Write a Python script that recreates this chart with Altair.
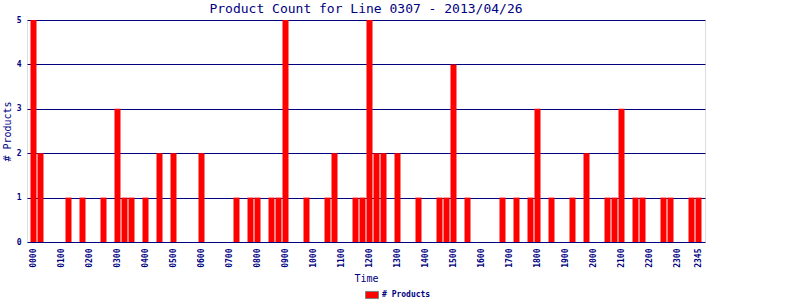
import altair as alt
import pandas as pd

# 15-minute slots 0000..2345
slots = [f"{h:02d}{m:02d}" for h in range(24) for m in (0, 15, 30, 45)]

# non-zero counts (slot label -> count)
nonzero_slots = ["0000", "0015", "0115", "0145", "0230", "0300", "0315", "0330",
                 "0400", "0430", "0500", "0600", "0715", "0745", "0800", "0830",
                 "0845", "0900", "0945", "1030", "1045", "1130", "1145", "1200",
                 "1215", "1230", "1300", "1345", "1430", "1445", "1500", "1530",
                 "1645", "1715", "1745", "1800", "1830", "1915", "1945", "2030",
                 "2045", "2100", "2130", "2145", "2230", "2245", "2330", "2345"]
nonzero_counts = [5, 2, 1, 1, 1, 3, 1, 1,
                  1, 2, 2, 2, 1, 1, 1, 1,
                  1, 5, 1, 1, 2, 1, 1, 5,
                  2, 2, 2, 1, 1, 1, 4, 1,
                  1, 1, 1, 3, 1, 1, 2, 1,
                  1, 3, 1, 1, 1, 1, 1, 1]

lookup = dict(zip(nonzero_slots, nonzero_counts))
counts = [lookup.get(s, 0) for s in slots]

df = pd.DataFrame({"Time": slots, "count": counts, "series": "# Products"})

NAVY = "#000080"
MONO = "DejaVu Sans Mono"

chart = alt.Chart(df).mark_bar(color="#ff0000").encode(
    x=alt.X("Time:O", sort=slots,
            scale=alt.Scale(domain=slots, paddingInner=1/7, paddingOuter=0.5),
            axis=alt.Axis(title="Time", labelAngle=-90, ticks=False, domain=False,
                          labelPadding=6, labelFont=MONO, labelFontSize=8,
                          labelFontWeight="bold", labelColor=NAVY,
                          labelExpr="(substring(datum.value, 2, 4) == '00' || datum.value == '2345') ? datum.value : ''",
                          labelOverlap=False,
                          titleFont=MONO, titleFontSize=10, titleFontWeight="normal",
                          titleColor=NAVY, titlePadding=6)),
    y=alt.Y("count:Q", scale=alt.Scale(domain=[0, 5], nice=False),
            axis=alt.Axis(title="# Products", values=[0, 1, 2, 3, 4, 5],
                          ticks=False, domain=False, grid=True, gridColor=NAVY,
                          gridOpacity=1, gridWidth=1,
                          labelPadding=6, labelFont=MONO, labelFontSize=8,
                          labelFontWeight="bold", labelColor=NAVY,
                          titleFont=MONO, titleFontSize=10, titleFontWeight="normal",
                          titleColor=NAVY, titlePadding=4)),
    fill=alt.Fill("series:N", scale=alt.Scale(range=["#ff0000"]),
                  legend=alt.Legend(title=None, orient="none", legendX=338, legendY=268,
                                    symbolType="M-1,-0.55H1V0.55H-1Z", symbolSize=169,
                                    symbolStrokeColor="#808080", symbolStrokeWidth=1,
                                    symbolFillColor="#ff0000",
                                    labelFont=MONO, labelFontSize=8, labelFontWeight="bold",
                                    labelColor=NAVY, labelOffset=3)),
).properties(
    width=678, height=222,
    title=alt.Title("Product Count for Line 0307 - 2013/04/26", font=MONO,
                    fontSize=13, fontWeight="normal", color=NAVY, offset=0),
    autosize=alt.AutoSizeParams(type="none"),
    padding={"left": 27, "top": 20, "right": 95, "bottom": 58},
).configure_view(stroke=NAVY, strokeWidth=1.5).configure(background="white")

chart.save("out.html", embed_options={"renderer": "svg", "actions": False})
